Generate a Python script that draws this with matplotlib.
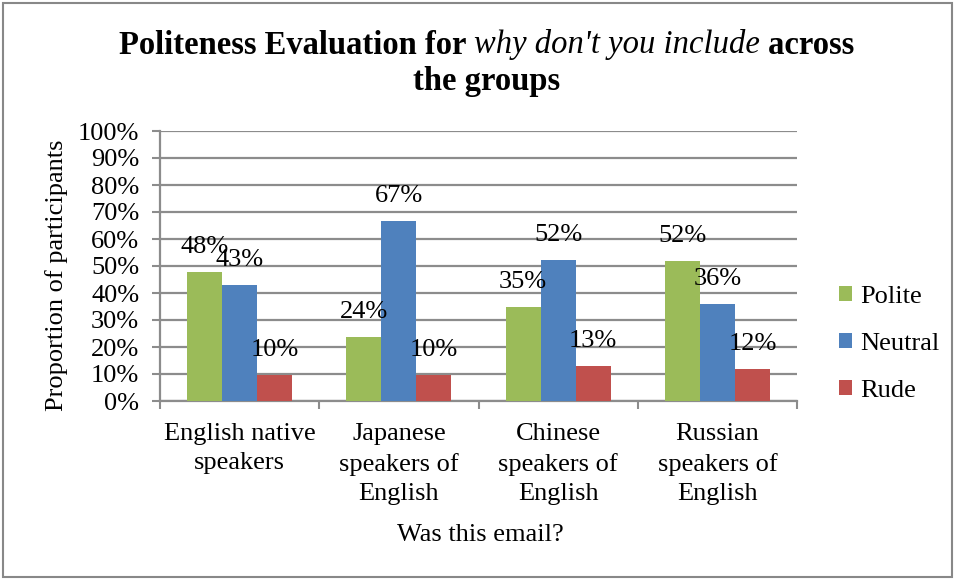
import matplotlib
matplotlib.use('Agg')
from matplotlib import pyplot as plt
from matplotlib.patches import Rectangle
import numpy as np

# data
groups = ['English native\nspeakers', 'Japanese\nspeakers of\nEnglish',
          'Chinese\nspeakers of\nEnglish', 'Russian\nspeakers of\nEnglish']
polite = [47.6, 23.8, 34.8, 52.0]
neutral = [42.9, 66.7, 52.2, 36.0]
rude = [9.5, 9.5, 13.0, 12.0]
polite_lbl = ['48%', '24%', '35%', '52%']
neutral_lbl = ['43%', '67%', '52%', '36%']
rude_lbl = ['10%', '10%', '13%', '12%']
series = ['Polite', 'Neutral', 'Rude']
colors = ['#9BBB59', '#4F81BD', '#C0504D']

plt.rcParams['font.family'] = ['Liberation Serif', 'DejaVu Serif']
FS = 19

fig = plt.figure(figsize=(9.55, 5.79), dpi=100)
fig.patches.append(Rectangle((0.003, 0.003), 0.994, 0.992, transform=fig.transFigure,
                             fill=False, edgecolor='#888888', lw=1.5))

ax = fig.add_axes([160/955, 1-401/579, 637/955, 270/579])
x = np.arange(len(groups))
w = 0.22
grid_c = '#8C8C8C'
for i, (vals, lbls) in enumerate(zip([polite, neutral, rude], [polite_lbl, neutral_lbl, rude_lbl])):
    pos = x + (i - 1) * w
    ax.bar(pos, vals, w, color=colors[i], label=series[i], zorder=3)
    for p, v, t in zip(pos, vals, lbls):
        ax.annotate(t, (p, v), xytext=(0, 25), textcoords='offset pixels',
                    ha='center', va='center', fontsize=FS, zorder=4)

ax.set_xlim(-0.5, 3.5)
ax.set_ylim(0, 100)
ax.set_yticks(np.arange(0, 101, 10))
ax.set_yticklabels(['%d%%' % t for t in range(0, 101, 10)], fontsize=FS)
ax.yaxis.grid(True, color=grid_c, lw=1.6, zorder=0)
ax.set_xticks(np.arange(-0.5, 4, 1))
ax.set_xticklabels([])
ax.set_xticks(x, minor=True)
ax.set_xticklabels(groups, minor=True, fontsize=FS, linespacing=1.42)
ax.tick_params(axis='x', which='minor', length=0, pad=16)
ax.tick_params(axis='x', which='major', length=6, color=grid_c, width=1.5, direction='out')
ax.tick_params(axis='y', length=6, color=grid_c, width=1.5, pad=9)
for s in ['top', 'right']:
    ax.spines[s].set_visible(False)
for s in ['left', 'bottom']:
    ax.spines[s].set_color(grid_c)
    ax.spines[s].set_linewidth(1.6)

fig.text(57/955, 1-275/579, 'Proportion of participants', rotation=90,
         ha='center', va='center', fontsize=FS)
fig.text(480/955, 1-535/579, 'Was this email?', ha='center', va='center', fontsize=FS)

leg = fig.legend(loc='center left', bbox_to_anchor=(815/955, 1-344/579), frameon=False,
                 fontsize=FS, handlelength=0.5, handleheight=0.5, handletextpad=0.3,
                 labelspacing=0.95)

# title with italic middle part
parts = [('Politeness Evaluation for ', 'normal', 'bold'),
         ("why don't you include", 'italic', 'normal'),
         (' across', 'normal', 'bold')]
fig.canvas.draw()
r = fig.canvas.get_renderer()
texts = []
total = 0
for s, st, wt in parts:
    t = fig.text(0, 1-45/579, s, fontsize=23.5, style=st, weight=wt, va='center', ha='left')
    ww = t.get_window_extent(r).width
    texts.append((t, ww))
    total += ww
start = 487 - total / 2
for t, ww in texts:
    t.set_x(start / 955)
    start += ww
fig.text(487/955, 1-81/579, 'the groups', fontsize=23.5, weight='bold', ha='center', va='center')

fig.savefig('out.png', dpi=100)
